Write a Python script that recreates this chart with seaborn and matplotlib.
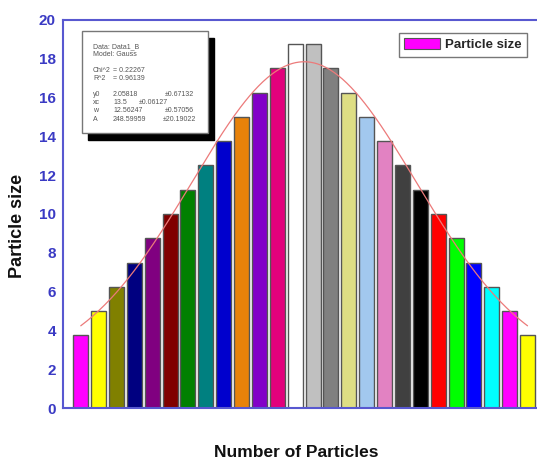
import numpy as np
import pandas as pd
import matplotlib
matplotlib.use("Agg")
import matplotlib.pyplot as plt
from matplotlib.patches import Patch, Rectangle
import seaborn as sns

# ---------------- data ----------------
particles = list(range(1, 27))
sizes = [3.75, 5.0, 6.25, 7.5, 8.75, 10.0, 11.25, 12.5, 13.75, 15.0, 16.25, 17.5, 18.75,
         18.75, 17.5, 16.25, 15.0, 13.75, 12.5, 11.25, 10.0, 8.75, 7.5, 6.25, 5.0, 3.75]
bar_colors = ["#ff00ff", "#ffff00", "#808000", "#000080", "#800080", "#800000", "#008000",
              "#008080", "#0000cd", "#e8820a", "#8200c8", "#e2007c", "#ffffff", "#c0c0c0",
              "#808080", "#dede84", "#a2c8ee", "#e282c2", "#404040", "#000000", "#ff0000",
              "#00ff00", "#0000ff", "#00ffff", "#ff00ff", "#ffff00"]
# Gauss fit parameters shown in the stats box
fit_y0, fit_xc, fit_w, fit_A = 2.05818, 13.5, 12.56247, 248.59959
fit_errs = [0.67132, 0.06127, 0.57056, 20.19022]
chi2, r2 = 0.22267, 0.96139
yticks = list(range(0, 21, 2))

W, H = 537, 462
sns.set_style("white")
plt.rcParams["font.family"] = ["Liberation Sans", "DejaVu Sans"]

fig = plt.figure(figsize=(W / 100, H / 100), dpi=100)
fig.patch.set_facecolor("white")

def fx(px):
    return px / W

def fy(py):
    return 1 - py / H

ax_l, ax_r, ax_t, ax_b = 62.9, 545.4, 20, 408
ax = fig.add_axes([fx(ax_l), fy(ax_b), fx(ax_r) - fx(ax_l), (ax_b - ax_t) / H])

df = pd.DataFrame({"n": particles, "size": sizes})
sns.barplot(data=df, x="n", y="size", hue="n", palette=bar_colors, legend=False,
            native_scale=True, width=0.84, edgecolor="#555555", linewidth=1.0,
            saturation=1, ax=ax)

# Gauss fit curve (Origin Gauss model)
xf = np.linspace(particles[0], particles[-1], 300)
yf = fit_y0 + fit_A / (fit_w * np.sqrt(np.pi / 2)) * np.exp(-2 * ((xf - fit_xc) / fit_w) ** 2)
ax.plot(xf, yf, color="#ec7a7a", lw=0.9, zorder=5)

ax.set_xlim(0, 27)
ax.set_ylim(0, 20)

axis_col = "#5858d0"
for s in ax.spines.values():
    s.set_visible(True)
    s.set_color(axis_col)
    s.set_linewidth(1.5)

ax.set_yticks(yticks)
ax.set_yticks(range(0, 21), minor=True)
ax.set_xticks(range(0, 27, 5))
ax.set_xticks(np.arange(0, 27, 2.5), minor=True)
ax.tick_params(axis="both", which="major", direction="in", length=6, width=1.2,
               color=axis_col, right=True, top=False)
ax.tick_params(axis="both", which="minor", direction="in", length=3, width=1.0,
               color=axis_col, right=True, top=False)
ax.tick_params(axis="x", which="both", labelbottom=False)
ax.tick_params(axis="y", labelsize=11, labelcolor="#3a3ac4", pad=5)
for lab in ax.get_yticklabels():
    lab.set_fontweight("bold")

ax.set_xlabel("Number of Particles", fontsize=12.5, fontweight="bold", color="#111111")
ax.set_ylabel("Particle size", fontsize=13, fontweight="bold", color="#111111")
ax.xaxis.set_label_coords((296 - ax_l) / (ax_r - ax_l), -(445 - ax_b) / (ax_b - ax_t))
ax.yaxis.set_label_coords(-(ax_l - 26) / (ax_r - ax_l), (ax_b - 226) / (ax_b - ax_t))

# legend
handle = Patch(facecolor="#ff00ff", edgecolor="#555555", linewidth=0.8)
leg = fig.legend(handles=[handle], labels=["Particle size"], loc="upper right",
                 bbox_to_anchor=(fx(527), fy(33)), frameon=True, fancybox=False,
                 prop={"weight": "bold", "size": 9.5}, handlelength=2.7,
                 handleheight=0.9, handletextpad=0.4, borderpad=0.4,
                 borderaxespad=0)
leg.get_frame().set_edgecolor("#555555")
leg.get_frame().set_linewidth(1.0)

# stats box with shadow
bx0, by0, bx1, by1 = 81.5, 31.5, 208, 133
fig.patches.append(Rectangle((fx(bx0 + 6), fy(by1 + 7)), fx(bx1) - fx(bx0), (by1 - by0) / H,
                             transform=fig.transFigure, facecolor="black",
                             edgecolor="black", zorder=10))
fig.patches.append(Rectangle((fx(bx0), fy(by1)), fx(bx1) - fx(bx0), (by1 - by0) / H,
                             transform=fig.transFigure, facecolor="white",
                             edgecolor="#777777", linewidth=1.0, zorder=11))
tkw = dict(fontsize=5, color="#555555", va="center", ha="left", zorder=12)
fig.text(fx(93), fy(46.5), "Data: Data1_B", **tkw)
fig.text(fx(93), fy(54), "Model: Gauss", **tkw)
fig.text(fx(93), fy(70), "Chi^2", **tkw)
fig.text(fx(113), fy(70), f"= {chi2:.5f}", **tkw)
fig.text(fx(93), fy(78), "R^2", **tkw)
fig.text(fx(113), fy(78), f"= {r2:.5f}", **tkw)
rows = [("y0", f"{fit_y0:.5f}", 95, 165),
        ("xc", f"{fit_xc}", 103, 139),
        ("w", f"{fit_w:.5f}", 111, 165),
        ("A", f"{fit_A:.5f}", 119.5, 163)]
for (name, val, yy, ex), err in zip(rows, fit_errs):
    fig.text(fx(93), fy(yy), name, **tkw)
    fig.text(fx(113), fy(yy), val, **tkw)
    fig.text(fx(ex), fy(yy), f"\u00b1{err:.5f}", **tkw)

fig.savefig("out.png", dpi=100, facecolor="white")
